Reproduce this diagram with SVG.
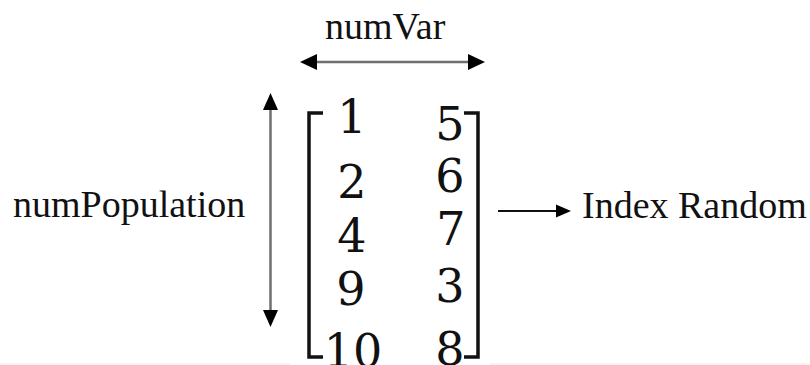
<svg xmlns="http://www.w3.org/2000/svg" width="810" height="365" viewBox="0 0 810 365">
<style>
.lbl{font-family:"Liberation Serif","Times New Roman",serif;font-size:38px;fill:#111}
.num{font-family:"DejaVu Serif","Liberation Serif",serif;font-size:46px;fill:#111;text-anchor:middle}
.br{fill:none;stroke:#111;stroke-width:3.5}
.gl{stroke:#6e6e6e;stroke-width:2.5}
.bl{stroke:#111;stroke-width:2}
.ah{fill:#000}
</style>
<rect width="810" height="365" fill="#fff"/>
<rect x="0" y="363" width="290" height="2" fill="#fbf3f3"/>
<rect x="490" y="363" width="320" height="2" fill="#fbf3f3"/>
<g id="connectors">
  <line class="gl" x1="314" y1="62" x2="471" y2="62"/>
  <polygon class="ah" points="300,62 317,54 317,70"/>
  <polygon class="ah" points="485,62 468,54 468,70"/>
  <line class="gl" x1="270.5" y1="108" x2="270.5" y2="312"/>
  <polygon class="ah" points="270.5,93 263,110 278,110"/>
  <polygon class="ah" points="270.5,327 263,310 278,310"/>
  <line class="bl" x1="498" y1="211" x2="560" y2="211"/>
  <polygon class="ah" points="571,211 556,204.5 556,217.5"/>
</g>
<g id="numVar"><text class="lbl" x="325" y="39">numVar</text></g>
<g id="numPopulation"><text class="lbl" x="13" y="217">numPopulation</text></g>
<g id="indexRandom"><text class="lbl" x="582" y="218">Index Random</text></g>
<g id="matrix">
  <path class="br" d="M323,113 H309 V357 H323"/>
  <path class="br" d="M464,113 H478 V357 H464"/>
  <text class="num" x="352" y="133">1</text>
  <text class="num" x="352" y="198">2</text>
  <text class="num" x="352" y="252">4</text>
  <text class="num" x="351" y="305">9</text>
  <text class="num" x="353" y="367">10</text>
  <text class="num" x="450" y="140">5</text>
  <text class="num" x="450" y="192">6</text>
  <text class="num" x="451" y="245">7</text>
  <text class="num" x="450" y="302">3</text>
  <text class="num" x="450" y="365">8</text>
</g>
</svg>
